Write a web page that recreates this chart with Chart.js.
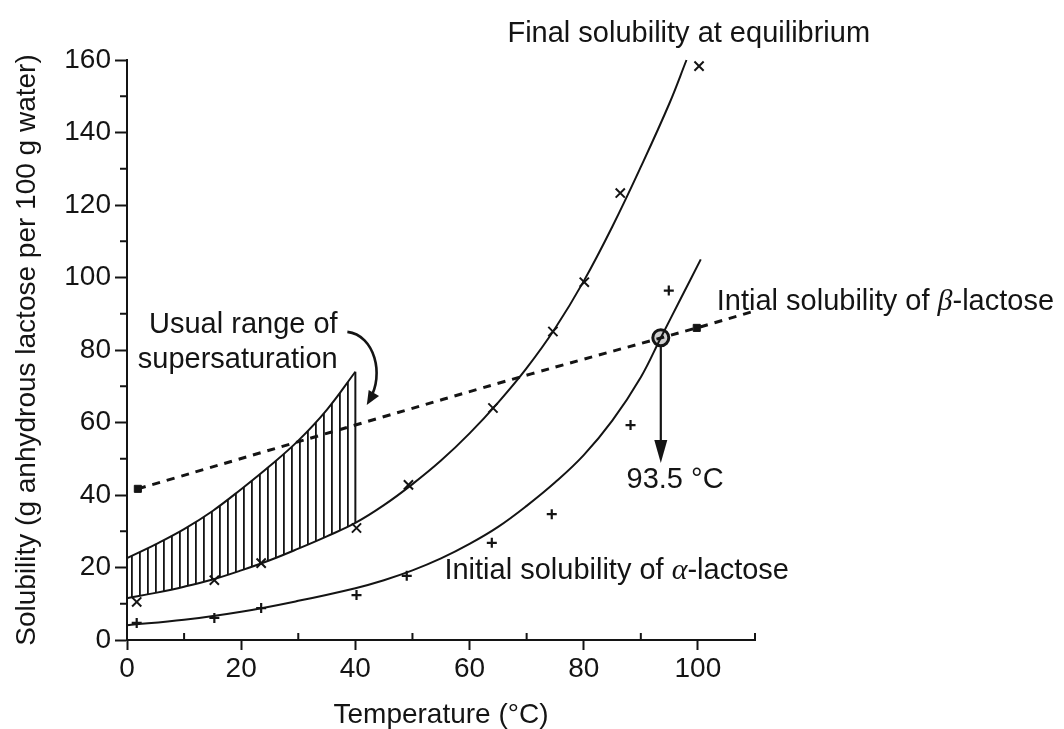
<!DOCTYPE html>
<html>
<head>
<meta charset="utf-8">
<title>Lactose solubility</title>
<script src="https://cdn.jsdelivr.net/npm/chart.js@4.4.0/dist/chart.umd.min.js"></script>
<style>
  html, body { margin: 0; padding: 0; background: #fff; }
  canvas { display: block; }
</style>
</head>
<body>
<canvas id="solChart" width="1064" height="729"></canvas>
<script>
// Final solubility at equilibrium - fitted curve
const finalCurveT = [0, 5, 10, 15, 20, 25, 30, 35, 40, 45, 50, 55, 60, 65, 70, 75, 80, 85, 90, 95, 98];
const finalCurveS = [11.5, 13, 14.7, 16.7, 19.2, 22, 25.2, 28.6, 32.3, 37.2, 43, 49.5, 57, 65.5, 75, 86, 99, 114, 130.5, 148, 160];
// measured points (x markers)
const finalPtsT = [1.7, 15.3, 23.5, 40.2, 49.3, 64.1, 74.6, 80.1, 86.4, 100.2];
const finalPtsS = [10.5, 16.5, 21.2, 30.9, 42.8, 64.0, 85.1, 98.7, 123.3, 158.3];

// Initial solubility of alpha-lactose
const alphaCurveT = [0, 10, 20, 30, 40, 45, 50, 55, 60, 65, 70, 75, 80, 85, 90, 93.5, 97, 100.5];
const alphaCurveS = [4.1, 5.6, 7.8, 10.8, 14.3, 16.5, 19.2, 22.5, 26.5, 31.2, 37, 43.5, 51, 60.5, 72.5, 83.4, 94.2, 105];
const alphaPtsT = [1.7, 15.3, 23.5, 40.2, 49, 63.9, 74.4, 88.2, 94.9];
const alphaPtsS = [4.7, 6.1, 8.8, 12.4, 17.7, 26.8, 34.7, 59.3, 96.4];

// Initial solubility of beta-lactose (dashed)
const betaLineT = [1.9, 40, 70.8, 99.8, 110];
const betaLineS = [41.7, 59.3, 73.4, 86.1, 90.8];
const betaPtsT = [1.9, 99.8];
const betaPtsS = [41.7, 86.1];

// upper limit of the usual supersaturation range
const superT = [0, 5, 10, 15, 20, 25, 30, 35, 40];
const superS = [22.6, 26.4, 30.6, 35.6, 41.6, 48, 55, 63.5, 74];

// crossing point of alpha and beta curves
const crossT = 93.5;
const crossS = 83.4;
const crossArrowTo = 48.8;

const xTicks = [0, 20, 40, 60, 80, 100];
const yTicks = [0, 20, 40, 60, 80, 100, 120, 140, 160];

const INK = '#141414';
const FONT = "'Liberation Sans', Arial, Helvetica, sans-serif";

const pts = (xs, ys) => xs.map((v, i) => ({ x: v, y: ys[i] }));

// lower edge of the hatched band follows the equilibrium curve up to 40 °C
const bandLower = pts(finalCurveT, finalCurveS).filter(p => p.x <= 40);

function drawArrowHead(ctx, tipX, tipY, fromX, fromY, len, half) {
    const a = Math.atan2(tipY - fromY, tipX - fromX);
    ctx.beginPath();
    ctx.moveTo(tipX, tipY);
    ctx.lineTo(tipX - len * Math.cos(a) + half * Math.sin(a), tipY - len * Math.sin(a) - half * Math.cos(a));
    ctx.lineTo(tipX - len * Math.cos(a) - half * Math.sin(a), tipY - len * Math.sin(a) + half * Math.cos(a));
    ctx.closePath();
    ctx.fill();
}

// text with an italic greek letter in the middle
function drawMixed(ctx, parts, x, y, align) {
    const widths = parts.map(p => { ctx.font = p.font; return ctx.measureText(p.text).width; });
    const total = widths.reduce((a, b) => a + b, 0);
    let cx = align === 'center' ? x - total / 2 : (align === 'right' ? x - total : x);
    ctx.textAlign = 'left';
    parts.forEach((p, i) => {
        ctx.font = p.font;
        ctx.fillText(p.text, cx, y);
        cx += widths[i];
    });
}

const annotations = {
    id: 'annotations',
    afterDraw(chart) {
        const { ctx } = chart;
        const xs = chart.scales.x, ys = chart.scales.y;
        const px = v => xs.getPixelForValue(v);
        const py = v => ys.getPixelForValue(v);
        const reg = '29px ' + FONT;
        const greek = "italic 30px 'Liberation Serif', 'Times New Roman', serif";

        ctx.save();
        ctx.fillStyle = INK;
        ctx.strokeStyle = INK;
        ctx.textBaseline = 'alphabetic';

        // minor ticks
        ctx.lineWidth = 2;
        ctx.beginPath();
        for (let t = 10; t <= 110; t += 20) {
            ctx.moveTo(px(t), ys.bottom);
            ctx.lineTo(px(t), ys.bottom - 7);
        }
        for (let s = 10; s <= 150; s += 20) {
            ctx.moveTo(xs.left, py(s));
            ctx.lineTo(xs.left - 7, py(s));
        }
        ctx.stroke();

        // labels
        ctx.font = reg;
        ctx.textAlign = 'center';
        ctx.fillText('Final solubility at equilibrium', px(98.4), py(165));
        drawMixed(ctx, [
            { text: 'Intial solubility of ', font: reg },
            { text: 'β', font: greek },
            { text: '-lactose', font: reg }
        ], px(103.3), py(91), 'left');
        drawMixed(ctx, [
            { text: 'Initial solubility of ', font: reg },
            { text: 'α', font: greek },
            { text: '-lactose', font: reg }
        ], px(55.6), py(16.8), 'left');
        ctx.font = reg;
        ctx.textAlign = 'right';
        ctx.fillText('Usual range of', px(36.9), py(84.7));
        ctx.fillText('supersaturation', px(36.9), py(75));
        ctx.textAlign = 'center';
        ctx.fillText('93.5 °C', px(96), py(41.9));

        // vertical arrow from the crossing point
        const ax = px(crossT);
        const tip = py(crossArrowTo);
        ctx.lineWidth = 2.2;
        ctx.beginPath();
        ctx.moveTo(ax, py(crossS) + 8);
        ctx.lineTo(ax, tip - 18);
        ctx.stroke();
        drawArrowHead(ctx, ax, tip, ax, tip - 30, 23, 6.5);

        // curved pointer to the hatched band
        const p0 = [px(38.6), py(85)], c1 = [px(43.4), py(84.1)], c2 = [px(45.1), py(73.1)], p3 = [px(42), py(64.8)];
        ctx.lineWidth = 2.6;
        ctx.beginPath();
        ctx.moveTo(p0[0], p0[1]);
        ctx.bezierCurveTo(c1[0], c1[1], c2[0], c2[1], p3[0] + 3, p3[1] - 6);
        ctx.stroke();
        drawArrowHead(ctx, p3[0], p3[1], c2[0], c2[1], 14, 6);

        ctx.restore();
    }
};

const lineBase = { pointRadius: 0, borderColor: INK, borderWidth: 2, fill: false, clip: false, tension: 0.4 };
const markBase = { showLine: false, borderColor: INK, backgroundColor: INK, clip: false };

const ctx = document.getElementById('solChart').getContext('2d');

// vertical hatching for the supersaturation band
const hatch = (() => {
    const c = document.createElement('canvas');
    c.width = 8;
    c.height = 8;
    const g = c.getContext('2d');
    g.fillStyle = INK;
    g.fillRect(3, 0, 1.8, 8);
    return ctx.createPattern(c, 'repeat');
})();

new Chart(ctx, {
    type: 'line',
    data: {
        datasets: [
            { ...lineBase, data: bandLower, borderWidth: 0 },
            { ...lineBase, data: pts(superT, superS), fill: { target: 0 }, backgroundColor: hatch },
            { ...lineBase, data: [{ x: 40, y: finalCurveS[finalCurveT.indexOf(40)] }, { x: 40, y: superS[superS.length - 1] }], tension: 0 },
            { ...lineBase, data: pts(finalCurveT, finalCurveS) },
            { ...lineBase, data: pts(alphaCurveT, alphaCurveS) },
            { ...lineBase, data: pts(betaLineT, betaLineS), borderWidth: 3, borderDash: [8, 7] },
            { ...markBase, data: pts(finalPtsT, finalPtsS), pointStyle: 'crossRot', pointRadius: 6.5, borderWidth: 2 },
            { ...markBase, data: pts(alphaPtsT, alphaPtsS), pointStyle: 'cross', pointRadius: 5, borderWidth: 2.2 },
            { ...markBase, data: pts(betaPtsT, betaPtsS), pointStyle: 'rect', pointRadius: 5 },
            { ...markBase, data: [{ x: crossT, y: crossS }], pointStyle: 'circle', pointRadius: 8, borderWidth: 3, backgroundColor: '#cfcfcf' }
        ]
    },
    options: {
        responsive: false,
        animation: false,
        events: [],
        layout: { padding: { left: 0, right: 309, top: 60, bottom: 0 } },
        plugins: { legend: { display: false }, tooltip: { enabled: false } },
        scales: {
            x: {
                type: 'linear',
                min: 0,
                max: 110,
                afterFit: s => { s.height = 89; },
                afterBuildTicks: s => { s.ticks = Array.from({ length: 12 }, (_, i) => ({ value: i * 10 })); },
                border: { color: INK, width: 2 },
                grid: {
                    drawOnChartArea: false,
                    tickLength: 10,
                    tickWidth: 2,
                    tickColor: c => (xTicks.includes(c.tick.value) ? INK : 'rgba(0,0,0,0)')
                },
                ticks: {
                    color: INK,
                    padding: 2,
                    maxRotation: 0,
                    autoSkip: false,
                    font: { family: FONT, size: 28 },
                    callback: v => (xTicks.includes(v) ? String(v) : '')
                },
                title: {
                    display: true,
                    text: 'Temperature (°C)',
                    color: INK,
                    padding: 0,
                    font: { family: FONT, size: 28, lineHeight: 1 }
                }
            },
            y: {
                min: 0,
                max: 160,
                afterFit: s => { s.width = 127; },
                afterBuildTicks: s => { s.ticks = Array.from({ length: 17 }, (_, i) => ({ value: i * 10 })); },
                border: { color: INK, width: 2 },
                grid: {
                    drawOnChartArea: false,
                    tickLength: 12,
                    tickWidth: 2,
                    tickColor: c => (yTicks.includes(c.tick.value) ? INK : 'rgba(0,0,0,0)')
                },
                ticks: {
                    color: INK,
                    padding: 4,
                    autoSkip: false,
                    font: { family: FONT, size: 28 },
                    callback: v => (yTicks.includes(v) ? String(v) : '')
                },
                title: {
                    display: true,
                    text: 'Solubility (g anhydrous lactose per 100 g water)',
                    color: INK,
                    padding: { top: 13, bottom: 0 },
                    font: { family: FONT, size: 28, lineHeight: 1 }
                }
            }
        }
    },
    plugins: [annotations]
});
</script>
</body>
</html>
